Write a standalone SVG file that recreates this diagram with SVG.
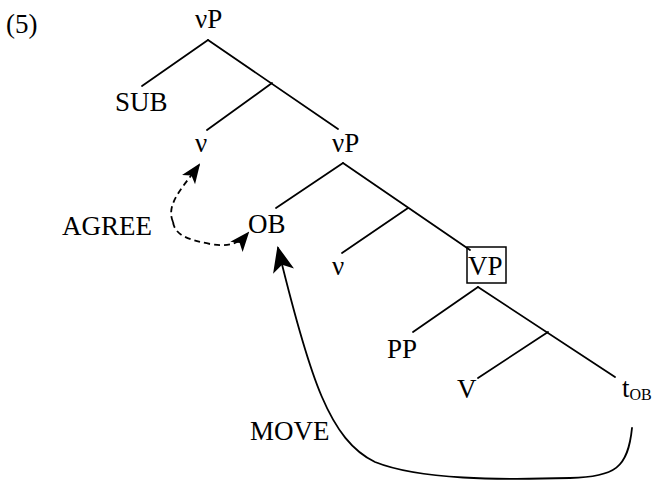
<svg xmlns="http://www.w3.org/2000/svg" width="653" height="483" viewBox="0 0 653 483">
<style>
text{font-family:"Liberation Serif","Times New Roman",serif;font-size:27px;fill:#000}
.e{stroke:#000;stroke-width:1.8;fill:none;stroke-linecap:round}
.d{stroke:#000;stroke-width:1.8;fill:none;stroke-dasharray:6 4}
</style>
<defs>
<marker id="ah" viewBox="0 0 24 20" refX="22" refY="10" markerWidth="26" markerHeight="22" markerUnits="userSpaceOnUse" orient="auto">
<path d="M0 0 L24 10 L0 20 L6 10 Z" fill="#000"/>
</marker>
<marker id="ahs" viewBox="0 0 20 16" refX="18" refY="8" markerWidth="20" markerHeight="17" markerUnits="userSpaceOnUse" orient="auto">
<path d="M0 0 L20 8 L0 16 L5 8 Z" fill="#000"/>
</marker>
</defs>
<text x="6" y="33">(5)</text>
<g id="connectors">
<line class="e" x1="208" y1="40" x2="142" y2="86"/>
<line class="e" x1="208" y1="40" x2="338" y2="129"/>
<line class="e" x1="272" y1="83" x2="207" y2="130"/>
<line class="e" x1="343" y1="163" x2="276" y2="208"/>
<line class="e" x1="343" y1="163" x2="470" y2="250"/>
<line class="e" x1="408" y1="208" x2="342" y2="253"/>
<line class="e" x1="478" y1="287" x2="413" y2="332"/>
<line class="e" x1="478" y1="287" x2="615" y2="377"/>
<line class="e" x1="548" y1="332" x2="478" y2="378"/>
<path class="d" d="M173 222 C165 204 184 186 199 165" marker-end="url(#ahs)"/>
<path class="d" d="M173 222 C175 236 190 240 210 244 C226 247 238 245 248 233" marker-end="url(#ahs)"/>
<path class="e" d="M632 428 C628 468 615 477 570 478 C500 480 420 480 375 462 C330 440 310 380 278 248" marker-end="url(#ah)"/>
</g>
<g id="vP1"><text x="195" y="28">νP</text></g>
<g id="SUB"><text x="115" y="111">SUB</text></g>
<g id="v1"><text x="195" y="152">ν</text></g>
<g id="vP2"><text x="332" y="152">νP</text></g>
<g id="AGREE"><text x="62" y="235">AGREE</text></g>
<g id="OB"><text x="248" y="233">OB</text></g>
<g id="v2"><text x="332" y="275">ν</text></g>
<g id="VP"><rect x="467" y="247" width="39" height="36" fill="none" stroke="#000" stroke-width="1.5"/><text x="468" y="275">VP</text></g>
<g id="PP"><text x="387" y="358">PP</text></g>
<g id="V"><text x="457" y="398">V</text></g>
<g id="tOB"><text x="622" y="397">t<tspan font-size="16" dy="3">OB</tspan></text></g>
<g id="MOVE"><text x="250" y="440">MOVE</text></g>
</svg>
